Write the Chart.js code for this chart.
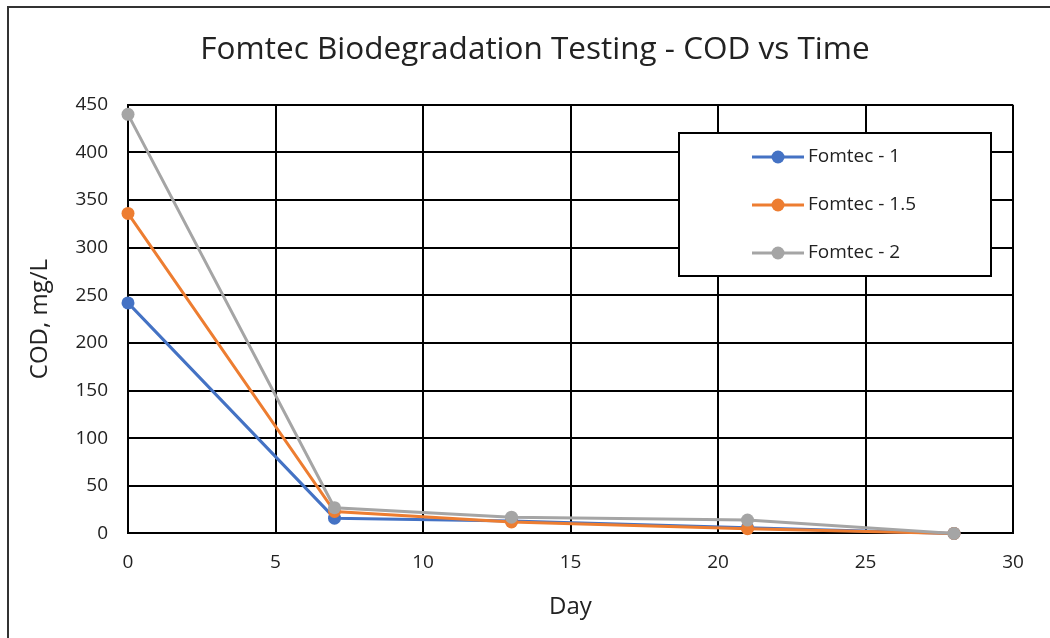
<!DOCTYPE html>
<html>
<head>
<meta charset="utf-8">
<script src="https://cdn.jsdelivr.net/npm/chart.js@4"></script>
<style>
  html, body { margin: 0; padding: 0; background: #fff; }
  #wrap { width: 1050px; height: 638px; position: relative; }
</style>
</head>
<body>
<div id="wrap"><canvas id="codChart" width="1050" height="638"></canvas></div>
<script>
const days = [0, 7, 13, 21, 28];
const fomtec1 = [242, 16, 13, 6, 0];
const fomtec15 = [336, 23, 12, 5, 0];
const fomtec2 = [440, 27, 17, 14, 0];
const seriesNames = ['Fomtec - 1', 'Fomtec - 1.5', 'Fomtec - 2'];
const seriesColors = ['#4472C4', '#ED7D31', '#A5A5A5'];

const FONT = "'Open Sans', 'Noto Sans', sans-serif";
const TEXT = '#222';

function toPoints(values) {
    return days.map((d, i) => ({ x: d, y: values[i] }));
}

// frame around the picture + boxed legend
const framePlugin = {
    id: 'frame',
    afterDraw(chart) {
        const ctx = chart.ctx;
        ctx.save();
        ctx.strokeStyle = '#333';
        ctx.lineWidth = 2;
        ctx.strokeRect(8, 7, 1100, 700);

        // legend box
        const lx = 679, ly = 133, lw = 312, lh = 143;
        ctx.fillStyle = '#fff';
        ctx.fillRect(lx, ly, lw, lh);
        ctx.strokeStyle = '#000';
        ctx.lineWidth = 2;
        ctx.strokeRect(lx, ly, lw, lh);
        ctx.font = '19px ' + FONT;
        ctx.textBaseline = 'middle';
        seriesNames.forEach((name, i) => {
            const y = ly + 24 + i * 48;
            ctx.strokeStyle = seriesColors[i];
            ctx.lineWidth = 3;
            ctx.beginPath();
            ctx.moveTo(752, y);
            ctx.lineTo(804, y);
            ctx.stroke();
            ctx.fillStyle = seriesColors[i];
            ctx.beginPath();
            ctx.arc(778, y, 6.5, 0, Math.PI * 2);
            ctx.fill();
            ctx.fillStyle = TEXT;
            ctx.fillText(name, 808, y);
        });
        ctx.restore();
    }
};

const ctx = document.getElementById('codChart').getContext('2d');
const codChart = new Chart(ctx, {
    type: 'line',
    data: {
        datasets: [fomtec1, fomtec15, fomtec2].map((vals, i) => ({
            label: seriesNames[i],
            data: toPoints(vals),
            borderColor: seriesColors[i],
            backgroundColor: seriesColors[i],
            borderWidth: 3,
            pointRadius: 6.5,
            pointBorderWidth: 0,
            clip: false,
            order: 2 - i
        }))
    },
    options: {
        responsive: false,
        animation: false,
        layout: { padding: { left: 20, right: 0, top: 0, bottom: 16 } },
        plugins: {
            legend: { display: false },
            tooltip: { enabled: false },
            title: {
                display: true,
                text: 'Fomtec Biodegradation Testing - COD vs Time',
                color: TEXT,
                font: { family: FONT, size: 31.5, weight: 'normal', lineHeight: 1.2 },
                padding: { top: 31, bottom: 36 }
            }
        },
        scales: {
            x: {
                type: 'linear',
                min: 0,
                max: 30,
                ticks: { stepSize: 5, color: TEXT, font: { family: FONT, size: 19 }, padding: 18 },
                grid: { color: '#000', lineWidth: 2, drawTicks: false },
                border: { color: '#000', width: 2 },
                title: { display: true, text: 'Day', color: TEXT, font: { family: FONT, size: 24 }, padding: { top: 1, bottom: 0 } },
                afterFit(scale) { scale.paddingRight = 37; }
            },
            y: {
                min: 0,
                max: 450,
                ticks: { stepSize: 50, color: TEXT, font: { family: FONT, size: 19 }, padding: 20 },
                grid: { color: '#000', lineWidth: 2, drawTicks: false },
                border: { color: '#000', width: 2 },
                title: { display: true, text: 'COD, mg/L', color: TEXT, font: { family: FONT, size: 24 }, padding: { top: 6, bottom: 6 } },
                afterFit(scale) { scale.width = 108; }
            }
        }
    },
    plugins: [framePlugin]
});
</script>
</body>
</html>
